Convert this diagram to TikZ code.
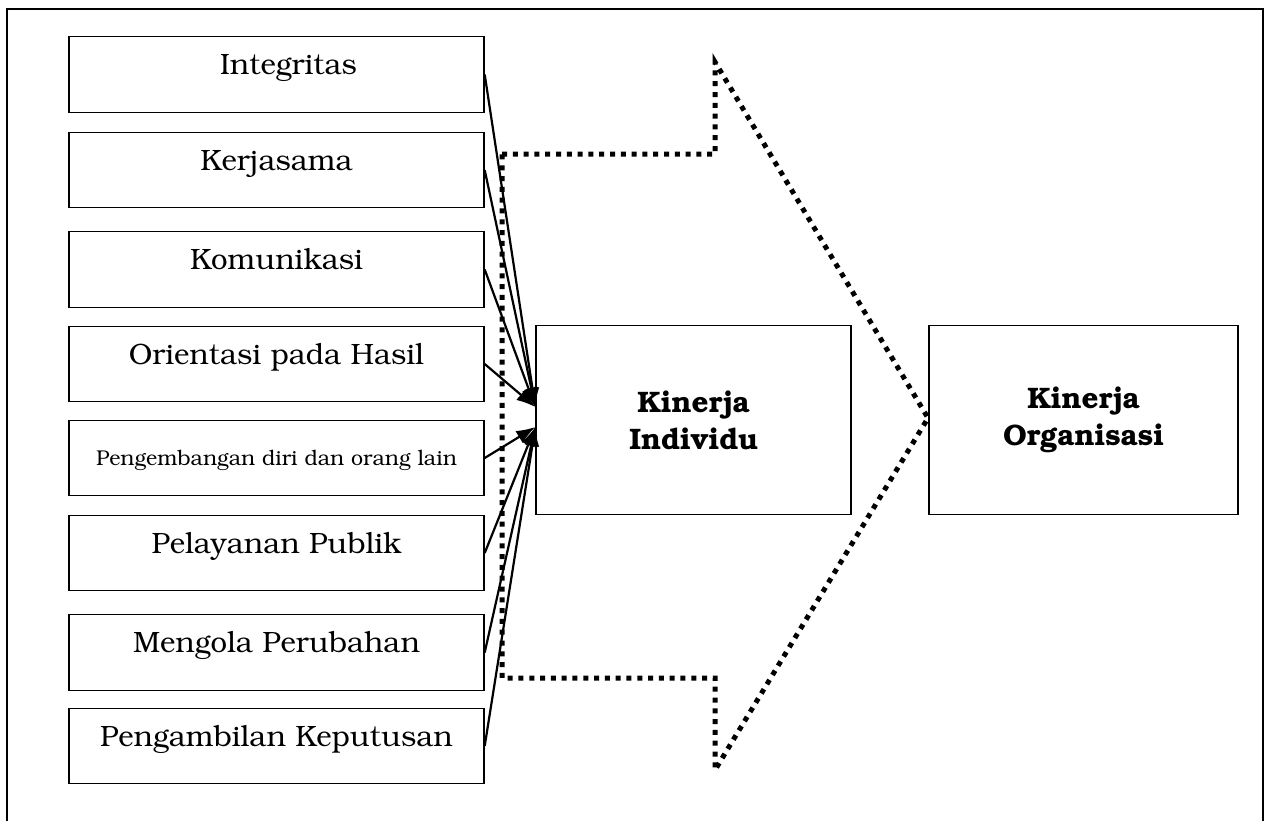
\documentclass[tikz,border=0pt]{standalone}
\usepackage[T1]{fontenc}
\usepackage{bookman}
\usepackage{tikz}
\usetikzlibrary{arrows.meta}
\usetikzlibrary{positioning}

\begin{document}
\begin{tikzpicture}[x=0.5pt, y=-0.5pt,
    kotak/.style={draw, line width=0.7pt, inner sep=0pt, minimum width=207.5pt, minimum height=37.75pt,
      text height=0pt, text depth=0pt, font=\fontsize{14.7}{17}\selectfont},
    kinerja/.style={draw, line width=0.7pt, inner sep=0pt, minimum height=94.5pt, align=center,
      font=\fontsize{14.8}{18.5}\selectfont\bfseries},
    panah/.style={line width=1.1pt, -{Latex[length=9.5pt, width=7pt]}},
    titik/.style={line width=2.5pt, dash pattern=on 2.5pt off 2.9pt}]
      \useasboundingbox (0, 0) rectangle (1268, 821);
      \draw [line width=1.1pt] (7, 821) -- (7, 9) -- (1263, 9) -- (1263, 821);

      \node [kotak] (k1) at (276.5, 74.5) {\hspace*{12pt}Integritas}; \node [kotak] (k2) at (276.5, 170) {Kerjasama};
      \node [kotak] (k3) at (276.5, 269.5) {Komunikasi}; \node [kotak] (k4) at (276.5, 364) {Orientasi pada Hasil};
      \node [kotak, text height=7pt, font=\fontsize{10.7}{12}\selectfont] (k5) at (276.5, 458) {Pengembangan diri dan orang lain};
      \node [kotak] (k6) at (276.5, 553) {Pelayanan Publik};
      \node [kotak] (k7) at (276.5, 652.5) {Mengola Perubahan}; \node [kotak] (k8) at (276.5, 746) {Pengambilan Keputusan};
      \node [kinerja, minimum width=157.5pt] (ind) at (693.5, 420) {Kinerja\\Individu};
      \node [kinerja, minimum width=154.5pt] (org) at (1083.5, 420) {Kinerja\\Organisasi};

      \draw [titik] (502, 154) -- (715, 154) -- (715, 62) -- (928, 418) -- (715, 770) -- (715, 678) -- (502, 678) -- cycle;

      \path [panah]
      (k1.east) edge ([yshift=6.5pt]ind.west)
      (k2.east) edge ([yshift=6.5pt]ind.west)
      (k3.east) edge ([yshift=6.5pt]ind.west)
      (k4.east) edge ([yshift=6.5pt]ind.west)
      (k5.east) edge ([yshift=-3.5pt]ind.west)
      (k6.east) edge ([yshift=-3.5pt]ind.west)
      (k7.east) edge ([yshift=-3.5pt]ind.west)
      (k8.east) edge ([yshift=-3.5pt]ind.west);
\end{tikzpicture}
\end{document}
